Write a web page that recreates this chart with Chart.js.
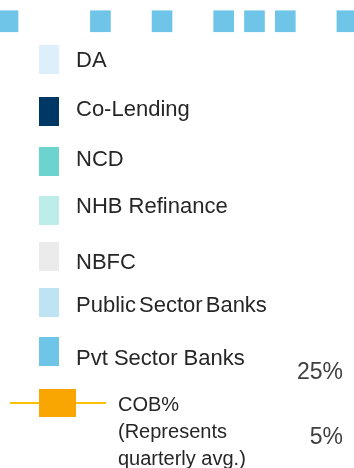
<!DOCTYPE html>
<html>
<head>
<meta charset="utf-8">
<script src="https://cdn.jsdelivr.net/npm/chart.js@4"></script>
<style>
  html, body { margin: 0; padding: 0; background: #fff; }
  #wrap { position: relative; width: 354px; height: 468px; overflow: hidden; }
  #chart { position: absolute; left: 0; top: 0; }
  .legend { position: absolute; left: 0; top: 0; width: 354px; height: 468px; pointer-events: none;
    font-family: "Liberation Sans", Arial, sans-serif; color: #262626; }
  .box { position: absolute; left: 39px; width: 20px; height: 29px; }
  .lbl { position: absolute; left: 76px; font-size: 22px; line-height: 22px; white-space: nowrap; }
  .cob-line { position: absolute; left: 10px; top: 402px; width: 96px; height: 2px; background: #FFC000; }
  .cob-box { position: absolute; left: 39px; top: 389px; width: 37px; height: 28px; background: #F9A602; }
  .cob-lbl { position: absolute; left: 118px; top: 391px; font-size: 20px; line-height: 27px; }
</style>
</head>
<body>
<div id="wrap">
  <canvas id="chart" width="354" height="468"></canvas>
  <div class="legend" id="legend"></div>
</div>
<script>
// quarters on the x axis; only some carry a visible Pvt Sector Banks segment
const QUARTERS = [0, 3, 5, 7, 8, 9, 11];
const PVT_LOW = [95.4, 95.4, 95.4, 95.4, 95.4, 95.4, 95.4];
const PVT_HIGH = [100, 100, 100, 100, 100, 100, 100];

const SERIES_NAMES = ['DA', 'Co-Lending', 'NCD', 'NHB Refinance', 'NBFC', 'Public Sector Banks', 'Pvt Sector Banks'];
const SERIES_COLORS = ['#DDEFFA', '#003865', '#6DD3CE', '#BCEDE8', '#EBEBEB', '#BEE4F4', '#6EC5E7'];
const COB_TICKS = [5, 25];

// legend rows (box top, text middle)
const ROW_BOX_TOP = [45, 97, 147, 196, 242, 288, 337];
const ROW_TEXT_MID = [60, 109, 159, 206, 262, 305, 358];

const legend = document.getElementById('legend');
SERIES_NAMES.forEach((name, i) => {
  const box = document.createElement('div');
  box.className = 'box';
  box.style.top = ROW_BOX_TOP[i] + 'px';
  box.style.background = SERIES_COLORS[i];
  legend.appendChild(box);
  const lbl = document.createElement('div');
  lbl.className = 'lbl';
  lbl.style.top = (ROW_TEXT_MID[i] - 11) + 'px';
  if (name === 'Public Sector Banks') lbl.style.wordSpacing = '-3px';
  lbl.textContent = name;
  legend.appendChild(lbl);
});
legend.insertAdjacentHTML('beforeend',
  '<div class="cob-line"></div><div class="cob-box"></div>' +
  '<div class="cob-lbl">COB%<br>(Represents<br>quarterly avg.)</div>');

// keep the mirrored right axis from eating into the plot area
function flatAxis(axis) {
  axis.width = 0;
  axis.paddingTop = 0;
  axis.paddingBottom = 0;
  axis.paddingLeft = 0;
  axis.paddingRight = 0;
}

new Chart(document.getElementById('chart'), {
  type: 'bar',
  data: {
    datasets: [{
      label: 'Pvt Sector Banks',
      data: QUARTERS.map((q, i) => ({ x: q, y: [PVT_LOW[i], PVT_HIGH[i]] })),
      backgroundColor: '#6EC5E7',
      barThickness: 20,
      yAxisID: 'y',
    }],
  },
  options: {
    responsive: false,
    animation: false,
    layout: { padding: 0 },
    plugins: { legend: { display: false }, tooltip: { enabled: false } },
    scales: {
      x: { type: 'linear', display: false, offset: false, min: -0.26, max: 11.23 },
      y: { display: false, min: 0, max: 102.35 },
      y1: {
        position: 'right',
        min: -4.38,
        max: 139.6,
        grid: { display: false, drawTicks: false },
        border: { display: false },
        afterBuildTicks: (axis) => { axis.ticks = COB_TICKS.map((v) => ({ value: v })); },
        afterFit: flatAxis,
        ticks: {
          mirror: true,
          padding: -11,
          color: '#404040',
          font: { family: '"Liberation Sans", Arial, sans-serif', size: 23 },
          callback: (v) => v + '%',
        },
      },
    },
  },
});
</script>
</body>
</html>
